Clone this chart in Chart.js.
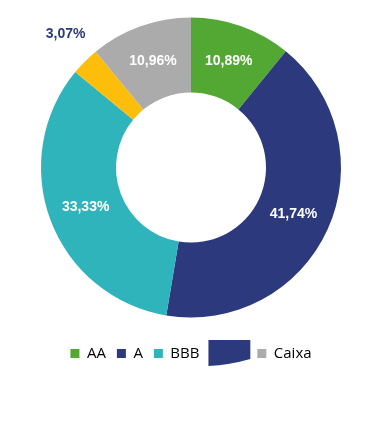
<!DOCTYPE html>
<html>
<head>
<meta charset="utf-8">
<script src="https://cdn.jsdelivr.net/npm/chart.js@4/dist/chart.umd.min.js"></script>
<style>
  html, body { margin: 0; padding: 0; background: #fff; }
  #wrap { width: 377px; height: 421px; position: relative; }
</style>
</head>
<body>
<div id="wrap"><canvas id="ratingChart"></canvas></div>
<script>
const categories = ['AA', 'A', 'BBB', 'BB', 'Caixa'];
const shares = [10.89, 41.74, 33.33, 3.07, 10.96];
const sliceColors = ['#52a833', '#2d397d', '#2fb4bb', '#fcbe0a', '#acabab'];
const outsideLabel = [false, false, false, true, false];

// rótulos percentuais nas fatias
const sliceLabels = {
    id: 'sliceLabels',
    afterDatasetsDraw(chart) {
        const ctx = chart.ctx;
        const meta = chart.getDatasetMeta(0);
        ctx.save();
        ctx.font = 'bold 14px "Liberation Sans", Arial, sans-serif';
        ctx.textAlign = 'center';
        ctx.textBaseline = 'middle';
        meta.data.forEach((arc, i) => {
            const txt = shares[i].toFixed(2).replace('.', ',') + '%';
            let pos;
            if (outsideLabel[i]) {
                const mid = (arc.startAngle + arc.endAngle) / 2 + 0.03;
                const r = arc.outerRadius + 33;
                pos = { x: arc.x + Math.cos(mid) * r, y: arc.y + Math.sin(mid) * r };
                ctx.fillStyle = '#2d397d';
            } else {
                pos = arc.tooltipPosition();
                ctx.fillStyle = '#ffffff';
            }
            ctx.fillText(txt, pos.x, pos.y);
        });
        ctx.restore();
    }
};

// mancha azul que cobre o 4º item da legenda na imagem original
const legendCover = {
    id: 'legendCover',
    afterDraw(chart) {
        const hb = chart.legend.legendHitBoxes[3];
        if (!hb) return;
        const ctx = chart.ctx;
        const x0 = hb.left - 2, x1 = hb.left + hb.width + 4;
        const y0 = hb.top - 6, y1 = hb.top + hb.height + 5;
        ctx.save();
        ctx.fillStyle = '#2d397d';
        ctx.beginPath();
        ctx.moveTo(x0, y0);
        ctx.lineTo(x1, y0);
        ctx.lineTo(x1, y1 - 7);
        ctx.quadraticCurveTo((x0 + x1) / 2, y1 - 1, x0, y1);
        ctx.closePath();
        ctx.fill();
        ctx.restore();
    }
};

new Chart(document.getElementById('ratingChart'), {
    type: 'doughnut',
    data: {
        labels: categories,
        datasets: [{
            data: shares,
            backgroundColor: sliceColors,
            borderWidth: 0
        }]
    },
    options: {
        responsive: true,
        maintainAspectRatio: false,
        animation: false,
        radius: 150,
        cutout: '50%',
        layout: { padding: { top: 0, bottom: 50, left: 5 } },
        plugins: {
            tooltip: { enabled: false },
            legend: {
                display: true,
                position: 'bottom',
                labels: {
                    boxWidth: 9,
                    boxHeight: 9,
                    padding: 11,
                    color: '#000',
                    font: { family: '"Open Sans", sans-serif', size: 15 }
                }
            }
        }
    },
    plugins: [sliceLabels, legendCover]
});
</script>
</body>
</html>
